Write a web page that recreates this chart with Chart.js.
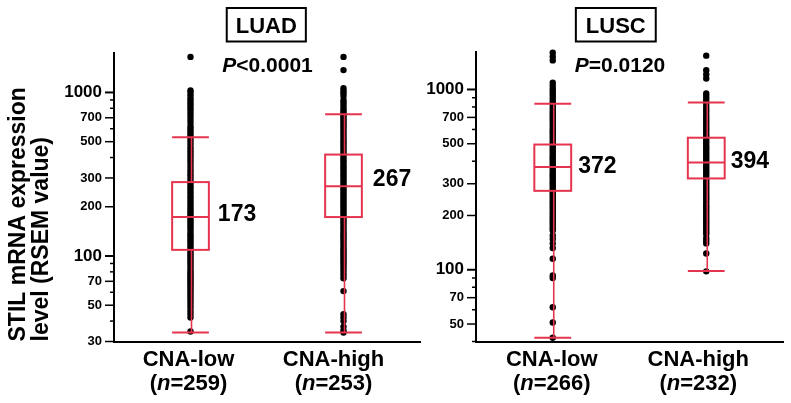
<!DOCTYPE html>
<html><head><meta charset="utf-8">
<script src="https://cdn.jsdelivr.net/npm/chart.js@4.4.1/dist/chart.umd.min.js"></script>
<style>
html,body{margin:0;padding:0;background:#fff;}
#wrap{position:relative;width:791px;height:403px;overflow:hidden;background:#fff;}
canvas{position:absolute;top:0;}
</style></head><body>
<div id="wrap">
<canvas id="c1" width="425" height="403" style="left:0;width:425px;height:403px"></canvas>
<canvas id="c2" width="366" height="403" style="left:425px;width:366px;height:403px"></canvas>
</div>
<script>
// ---------- data ----------
const categories = ['CNA-low', 'CNA-high'];
const luadN = [259, 253];
const luscN = [266, 232];

const luadLow = [1650, 1030, 1000, 960, 920, 890, 860, 830, 800, 770, 740, 710, 680, 650, 620, 600, 580, 560, 540, 520, 500, 480, 460, 445, 430, 415, 400, 385, 370, 355, 340, 328, 316, 305, 294, 283, 273, 263, 254, 245, 236, 228, 220, 212, 205, 198, 191, 185, 179, 173, 167, 162, 157, 152, 147, 142, 137, 133, 129, 125, 121, 117, 113, 109, 106, 103, 100, 97, 94, 91, 88, 85, 82, 80, 78, 76, 74, 72, 70, 68, 66, 64, 62, 60, 58, 56, 54, 52, 50, 48, 46, 44, 42, 34.5];
const luadHigh = [1650, 1370, 1060, 1020, 990, 950, 900, 870, 840, 810, 780, 760, 740, 720, 700, 680, 660, 640, 620, 600, 580, 560, 540, 520, 505, 490, 475, 460, 445, 430, 417, 404, 391, 379, 367, 355, 344, 333, 322, 312, 302, 292, 283, 274, 266, 258, 250, 242, 234, 227, 220, 213, 206, 200, 194, 188, 182, 176, 170, 165, 160, 155, 150, 145, 140, 136, 132, 128, 124, 120, 116, 112, 109, 106, 103, 100, 97, 94, 91, 88, 85, 82, 79, 76, 73, 61, 44, 42, 40, 37, 35, 34];
const luscLow = [1600, 1520, 1450, 1090, 1050, 1010, 980, 950, 920, 890, 860, 835, 810, 785, 760, 740, 720, 700, 680, 660, 640, 620, 600, 585, 570, 555, 540, 525, 510, 496, 483, 470, 457, 445, 433, 421, 410, 399, 388, 378, 368, 358, 348, 339, 330, 321, 312, 304, 296, 288, 280, 272, 265, 258, 251, 244, 237, 230, 224, 218, 212, 206, 200, 195, 190, 185, 180, 175, 170, 165, 155, 148, 140, 132, 115, 93, 90, 62, 51, 42];
const luscHigh = [1540, 1280, 1210, 1150, 950, 920, 890, 860, 830, 800, 775, 750, 725, 700, 680, 660, 640, 620, 600, 582, 565, 548, 532, 516, 500, 485, 471, 457, 444, 431, 419, 407, 395, 384, 373, 362, 352, 342, 332, 322, 313, 304, 295, 287, 279, 271, 263, 256, 249, 242, 235, 228, 222, 216, 210, 204, 198, 192, 187, 182, 177, 172, 167, 162, 158, 150, 145, 140, 123, 98];

// box statistics [CNA-low, CNA-high]
const luadMedian = [173, 267];
const luadQ1 = [109, 173];
const luadQ3 = [283, 417];
const luadWhiskerLow = [34, 34];
const luadWhiskerHigh = [532, 736];
const luscMedian = [372, 394];
const luscQ1 = [274, 321];
const luscQ3 = [495, 540];
const luscWhiskerLow = [42, 98.4];
const luscWhiskerHigh = [833, 847];

const yTicks = [30, 40, 50, 60, 70, 80, 90, 100, 200, 300, 400, 500, 600, 700, 800, 900, 1000];
const yTickLabels = [30, 50, 70, 100, 200, 300, 500, 700, 1000];
const yBigLabels = [100, 1000];

// ---------- styling ----------
const FONT = '"Liberation Sans", Arial, Helvetica, sans-serif';
const RED = '#e6344f';
const BOX_HALF = 0.12;

function line(ctx, x1, y1, x2, y2) { ctx.beginPath(); ctx.moveTo(x1, y1); ctx.lineTo(x2, y2); ctx.stroke(); }

function drawMixed(ctx, parts, cx, y, size) {
  // parts: [{t, it}]
  let total = 0;
  parts.forEach(p => { ctx.font = (p.it ? 'italic ' : '') + 'bold ' + size + 'px ' + FONT; p.w = ctx.measureText(p.t).width; total += p.w; });
  let x = cx - total / 2;
  ctx.textAlign = 'left';
  parts.forEach(p => { ctx.font = (p.it ? 'italic ' : '') + 'bold ' + size + 'px ' + FONT; ctx.fillText(p.t, x, y); x += p.w; });
}

function panelPlugin(p) {
  return {
    id: 'panel_' + p.title,
    afterDatasetsDraw(chart) {
      const ctx = chart.ctx, xs = chart.scales.x, ys = chart.scales.y;
      ctx.save();
      ctx.strokeStyle = RED;
      p.median.forEach((m, i) => {
        const cx = xs.getPixelForValue(i);
        const xl = xs.getPixelForValue(i - BOX_HALF), xr = xs.getPixelForValue(i + BOX_HALF);
        const yq1 = ys.getPixelForValue(p.q1[i]), yq3 = ys.getPixelForValue(p.q3[i]);
        const ym = ys.getPixelForValue(m), ylo = ys.getPixelForValue(p.wlo[i]), yhi = ys.getPixelForValue(p.whi[i]);
        ctx.lineWidth = 1.6;
        line(ctx, cx + 1, yq3, cx + 1, yhi);
        line(ctx, cx + 1, yq1, cx + 1, ylo);
        ctx.lineWidth = 2;
        line(ctx, xl, yhi, xr, yhi);
        line(ctx, xl, ylo, xr, ylo);
        ctx.strokeRect(xl, yq3, xr - xl, yq1 - yq3);
        line(ctx, xl, ym, xr, ym);
        ctx.fillStyle = '#000';
        ctx.font = 'bold 23px ' + FONT;
        ctx.textAlign = 'left';
        ctx.textBaseline = 'middle';
        ctx.fillText(String(m), xr + p.medDx[i], ym + p.medDy[i]);
      });
      ctx.restore();
    },
    afterDraw(chart) {
      const ctx = chart.ctx, xs = chart.scales.x, ys = chart.scales.y;
      const left = chart.chartArea.left;
      ctx.save();
      ctx.strokeStyle = '#000';
      ctx.fillStyle = '#000';
      // y tick marks
      yTicks.forEach(v => {
        if (v < p.yMin || v > p.yMax) return;
        const y = ys.getPixelForValue(v);
        const len = yTickLabels.includes(v) ? 9 : 4;
        ctx.lineWidth = yBigLabels.includes(v) ? 2 : 1.5;
        line(ctx, left - len, y, left, y);
      });
      // category labels
      ctx.textBaseline = 'alphabetic';
      categories.forEach((c, i) => {
        const x = xs.getPixelForValue(i) + p.catDx[i];
        ctx.font = 'bold 22px ' + FONT;
        ctx.textAlign = 'center';
        ctx.fillText(c, x, 365.5);
        drawMixed(ctx, [{t: '('}, {t: 'n', it: true}, {t: '=' + p.n[i] + ')'}], x, 390, 22);
      });
      // title box
      ctx.font = 'bold 22px ' + FONT;
      const tw = ctx.measureText(p.title).width + 2 * p.titlePad;
      ctx.lineWidth = 2;
      ctx.strokeRect(p.titleX - tw / 2, 8, tw, 33.5);
      ctx.textAlign = 'center';
      ctx.fillText(p.title, p.titleX, 33.3);
      // P value
      drawMixed(ctx, [{t: 'P', it: true}, {t: p.pText}], p.pX, 72.3, 21);
      // y title
      if (p.yTitle) {
        ctx.font = 'bold 23px ' + FONT;
        ctx.textAlign = 'left';
        p.yTitle.forEach((t, k) => {
          ctx.save();
          ctx.translate(p.yTitleX[k], 341.5);
          ctx.rotate(-Math.PI / 2);
          ctx.fillText(t, 0, 0);
          ctx.restore();
        });
      }
      ctx.restore();
    }
  };
}

function makeChart(id, p) {
  return new Chart(document.getElementById(id), {
    type: 'scatter',
    data: {
      datasets: p.series.map((arr, i) => ({
        data: arr.map(v => ({x: i, y: v})),
        pointRadius: 3.2, pointHoverRadius: 3.2,
        pointBackgroundColor: '#000', pointBorderColor: '#000', pointBorderWidth: 0,
        showLine: false, clip: false
      }))
    },
    options: {
      responsive: false, animation: false, events: [],
      layout: {padding: {top: p.padTop, right: p.padRight, left: 0, bottom: 0}},
      plugins: {legend: {display: false}, tooltip: {enabled: false}, title: {display: false}},
      scales: {
        x: {
          type: 'linear', min: -0.5, max: 1.5,
          grid: {display: false},
          border: {display: true, color: '#000', width: 2},
          ticks: {display: false},
          afterFit: s => { s.height = 403 - p.bottom; }
        },
        y: {
          type: 'logarithmic', min: p.yMin, max: p.yMax,
          grid: {display: true, drawOnChartArea: false, drawTicks: true, tickLength: 9, tickColor: 'rgba(0,0,0,0)'},
          border: {display: true, color: '#000', width: 2},
          afterBuildTicks: s => { s.ticks = yTicks.filter(v => v >= p.yMin && v <= p.yMax).map(v => ({value: v})); },
          ticks: {
            autoSkip: false, padding: 3, color: '#000',
            font: c => ({family: FONT, weight: 'bold', size: (c.tick && yBigLabels.includes(c.tick.value)) ? 17 : 13}),
            callback: v => yTickLabels.includes(v) ? String(v) : ''
          },
          afterFit: s => { s.width = p.yAxisWidth; }
        }
      }
    },
    plugins: [panelPlugin(p)]
  });
}

makeChart('c1', {
  title: 'LUAD', titleX: 266.3, titlePad: 9, pText: '<0.0001', pX: 267.5,
  series: [luadLow, luadHigh], n: luadN,
  median: luadMedian, q1: luadQ1, q3: luadQ3, wlo: luadWhiskerLow, whi: luadWhiskerHigh,
  medDx: [9, 11], medDy: [-2, -7], catDx: [-2, -10],
  yMin: 30, yMax: 1750, padTop: 52.7, bottom: 341.5, padRight: 5, yAxisWidth: 114,
  yTitle: ['STIL mRNA expression', 'level (RSEM value)'], yTitleX: [25, 48]
});
makeChart('c2', {
  title: 'LUSC', titleX: 190.8, titlePad: 10, pText: '=0.0120', pX: 195,
  series: [luscLow, luscHigh], n: luscN,
  median: luscMedian, q1: luscQ1, q3: luscQ3, wlo: luscWhiskerLow, whi: luscWhiskerHigh,
  medDx: [7, 6], medDy: [0, -1], catDx: [-1, -8],
  yMin: 40, yMax: 1620, padTop: 51.7, bottom: 341.5, padRight: 8, yAxisWidth: 51,
  yTitle: null
});
</script>
</body></html>
